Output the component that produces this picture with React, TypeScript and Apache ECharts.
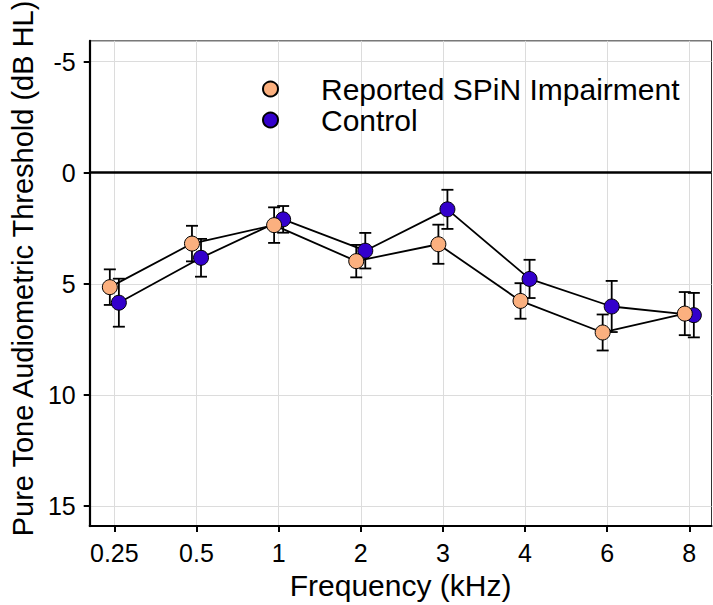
import React, { useEffect, useRef } from "react";
import * as echarts from "echarts";

const frequencies = ["0.25", "0.5", "1", "2", "3", "4", "6", "8"];
const reportedMean = [5.15, 3.19, 2.36, 3.98, 3.22, 5.77, 7.19, 6.34];
const reportedErr = [0.8, 0.8, 0.8, 0.73, 0.88, 0.8, 0.81, 0.97];
const controlMean = [5.85, 3.83, 2.1, 3.51, 1.65, 4.78, 6.02, 6.41];
const controlErr = [1.08, 0.85, 0.6, 0.8, 0.88, 0.86, 1.15, 1.0];
const yTicks = [-5, 0, 5, 10, 15];

const REPORTED = "Reported SPiN Impairment";
const CONTROL = "Control";
const DODGE = 0.055;
const FONT = "'Liberation Sans', Arial, sans-serif";

export default function App() {
  const ref = useRef<HTMLDivElement>(null);
  useEffect(() => {
    if (!ref.current) return;
    const chart = echarts.init(ref.current, undefined, { renderer: "svg" });
    const xIdx = frequencies.map((_, i) => i);
    const pts = (means: number[], off: number) => means.map((m, i) => [i + off, m]);
    const bars = (means: number[], errs: number[], off: number) =>
      means.map((m, i) => [i + off, m - errs[i], m + errs[i]]);
    const errorBarSeries = (name: string, data: number[][]) => ({
      type: "custom",
      name: name + "-err",
      z: 2,
      silent: true,
      data,
      encode: { x: 0, y: [1, 2] },
      renderItem: (params: any, api: any) => {
        const x = api.value(0);
        const lo = api.coord([x, api.value(1)]);
        const hi = api.coord([x, api.value(2)]);
        const w = 6;
        const style = { stroke: "#000", lineWidth: 1.8, fill: "none" };
        return {
          type: "group",
          children: [
            { type: "line", shape: { x1: lo[0], y1: lo[1], x2: hi[0], y2: hi[1] }, style },
            { type: "line", shape: { x1: lo[0] - w, y1: lo[1], x2: lo[0] + w, y2: lo[1] }, style },
            { type: "line", shape: { x1: hi[0] - w, y1: hi[1], x2: hi[0] + w, y2: hi[1] }, style },
          ],
        };
      },
    });
    const option: any = {
      animation: false,
      textStyle: { fontFamily: FONT },
      grid: {
        left: 84,
        right: 1.5,
        top: 34,
        bottom: 71.5,
        show: true,
        borderColor: "#333",
        borderWidth: 1,
        containLabel: false,
      },
      legend: {
        orient: "vertical",
        left: 257,
        top: 69,
        itemWidth: 15,
        itemHeight: 15,
        itemGap: 1,
        icon: "circle",
        data: [REPORTED, CONTROL],
        textStyle: {
          fontSize: 30,
          lineHeight: 30,
          color: "#000",
          fontFamily: FONT,
          padding: [0, 0, 0, 38],
        },
      },
      xAxis: {
        type: "value",
        min: -0.3,
        max: 7.27,
        name: "Frequency (kHz)",
        nameLocation: "middle",
        nameGap: 38,
        nameTextStyle: { fontSize: 30, color: "#000", fontFamily: FONT },
        axisLine: { show: true, onZero: false, lineStyle: { color: "#000", width: 2.2 } },
        axisTick: { show: true, length: 6, customValues: xIdx, lineStyle: { color: "#000", width: 2 } },
        axisLabel: {
          customValues: xIdx,
          formatter: (v: number) => frequencies[Math.round(v)] ?? "",
          fontSize: 25,
          color: "#000",
          margin: 14,
          fontFamily: FONT,
        },
        splitLine: { show: true, lineStyle: { color: "#DCDCDC", width: 1 } },
      },
      yAxis: {
        type: "value",
        inverse: true,
        min: -5.93,
        max: 15.9,
        name: "Pure Tone Audiometric Threshold (dB HL)",
        nameLocation: "middle",
        nameGap: 45,
        nameTextStyle: {
          fontSize: 29,
          color: "#000",
          fontFamily: FONT,
          padding: [0, 0, 0, 30],
        },
        axisLine: { show: true, onZero: false, lineStyle: { color: "#000", width: 2.2 } },
        axisTick: { show: true, length: 6, customValues: yTicks, lineStyle: { color: "#000", width: 2 } },
        axisLabel: {
          customValues: yTicks,
          fontSize: 25,
          color: "#000",
          margin: 14,
          fontFamily: FONT,
        },
        splitLine: { show: true, lineStyle: { color: "#DCDCDC", width: 1 } },
      },
      series: [
        {
          type: "line",
          name: "zero-line",
          data: [],
          silent: true,
          z: 1,
          markLine: {
            silent: true,
            symbol: "none",
            label: { show: false },
            lineStyle: { color: "#000", width: 2.6, type: "solid" },
            data: [{ yAxis: 0 }],
          },
        },
        errorBarSeries(CONTROL, bars(controlMean, controlErr, DODGE)),
        errorBarSeries(REPORTED, bars(reportedMean, reportedErr, -DODGE)),
        {
          type: "line",
          name: CONTROL + "-line",
          data: pts(controlMean, DODGE),
          showSymbol: false,
          symbol: "none",
          z: 3,
          silent: true,
          lineStyle: { color: "#000", width: 1.8 },
        },
        {
          type: "line",
          name: REPORTED + "-line",
          data: pts(reportedMean, -DODGE),
          showSymbol: false,
          symbol: "none",
          z: 3,
          silent: true,
          lineStyle: { color: "#000", width: 1.8 },
        },
        {
          type: "scatter",
          name: CONTROL,
          data: pts(controlMean, DODGE),
          symbol: "circle",
          symbolSize: 15,
          z: 4,
          itemStyle: { color: "#3300CC", borderColor: "#000", borderWidth: 1, opacity: 1 },
        },
        {
          type: "scatter",
          name: REPORTED,
          data: pts(reportedMean, -DODGE),
          symbol: "circle",
          symbolSize: 15,
          z: 5,
          itemStyle: { color: "#FBB07F", borderColor: "#000", borderWidth: 1, opacity: 1 },
        },
      ],
    };
    chart.setOption(option);
    return () => chart.dispose();
  }, []);
  return (
    <div
      ref={ref}
      style={{ position: "fixed", left: 0, top: 0, width: 713, height: 605, background: "#fff" }}
    />
  );
}
